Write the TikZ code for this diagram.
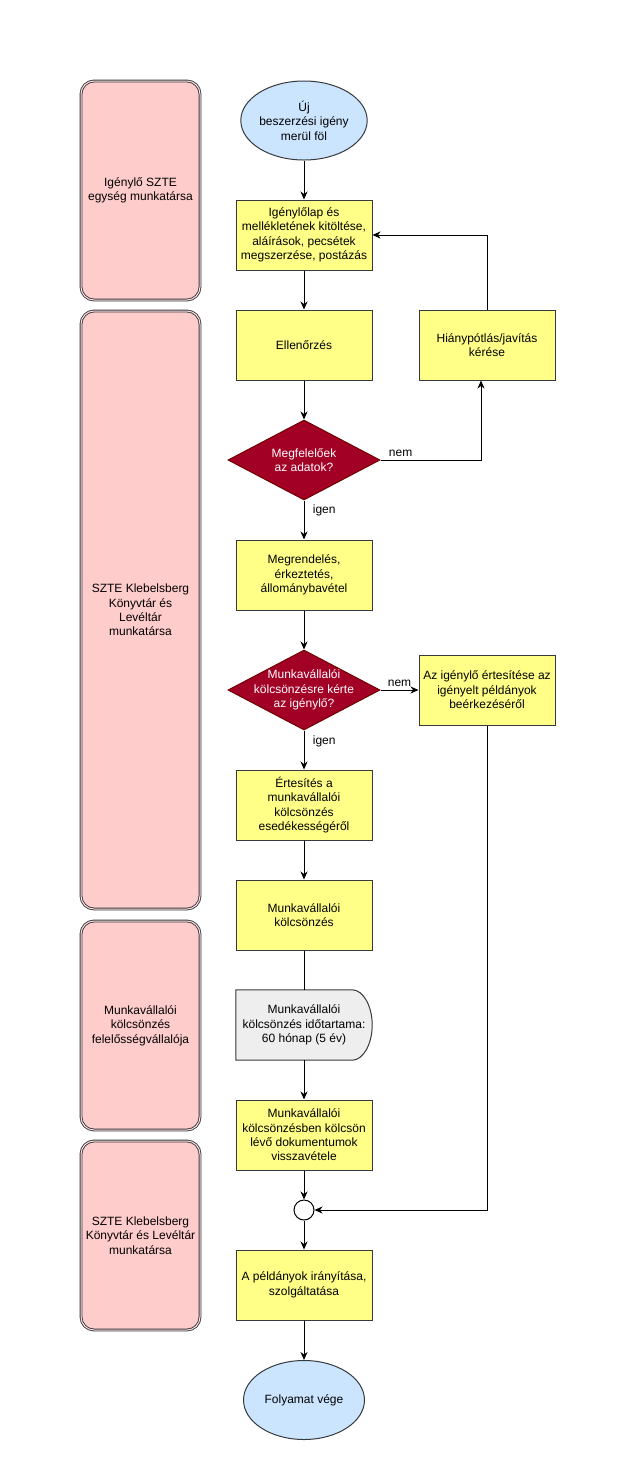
\documentclass[tikz,border=0pt]{standalone}
\usepackage{fontspec}
\setmainfont{Liberation Sans}
\usepackage{xcolor}
\usepackage{tikz}
\usetikzlibrary{shapes.geometric,arrows.meta,backgrounds}

\definecolor{laneRed}{HTML}{FFCCCC}
\definecolor{boxYellow}{HTML}{FFFF88}
\definecolor{termBlue}{HTML}{CCE5FF}
\definecolor{decRed}{HTML}{A20025}
\definecolor{decLine}{HTML}{6F0000}
\definecolor{delayGray}{HTML}{EEEEEE}
\definecolor{edgeGray}{HTML}{36393D}

\begin{document}
\begin{tikzpicture}[
        x=1pt, y=-1pt,
        font=\fontsize{12}{14.4}\selectfont,
        lane/.style={draw=edgeGray, line width=0.9pt, double=laneRed!60!white, double distance=1pt,
            fill=laneRed, rounded corners=13pt, minimum width=119pt, align=center},
        proc/.style={draw=edgeGray, line width=1pt, fill=boxYellow, minimum width=136pt,
            minimum height=70pt, inner sep=2pt, align=center},
        term/.style={ellipse, draw=edgeGray, line width=1pt, fill=termBlue, minimum width=121pt,
            minimum height=79pt, inner sep=0pt, align=center},
        decision/.style={diamond, draw=decLine, line width=1pt, fill=decRed, minimum width=152pt,
            minimum height=80pt, inner sep=0pt},
        flow/.style={line width=1pt, -{Stealth[length=8pt,width=7pt,inset=2.5pt]}}
    ]
    \useasboundingbox (0,0) rectangle (631,1481);

    % swimlanes
    \node[lane, minimum height=219pt] (lane1) at (140.5,190.5) {Igénylő SZTE\\egység munkatársa};
    \node[lane, minimum height=598pt] (lane2) at (140.5,610) {SZTE Klebelsberg\\Könyvtár és\\Levéltár\\munkatársa};
    \node[lane, minimum height=209pt] (lane3) at (140.5,1025.5) {Munkavállalói\\kölcsönzés\\felelősségvállalója};
    \node[lane, minimum height=189pt] (lane4) at (140.5,1235.5) {SZTE Klebelsberg\\Könyvtár és Levéltár\\munkatársa};

    % steps
    \node[term] (start) at (304,120.5) {Új\\beszerzési igény\\merül föl};
    \node[proc] (kitolt) at (304,235) {Igénylőlap és\\mellékletének kitöltése,\\aláírások, pecsétek\\megszerzése, postázás};
    \node[proc] (ellenorz) at (304,345) {Ellenőrzés};
    \node[proc] (hiany) at (487,345) {Hiánypótlás/javítás\\kérése};
    \node[decision, label={[text=white, align=center]center:Megfelelőek\\az adatok?}] (adatok) at (304,460) {};
    \node[proc] (megrend) at (304,575) {Megrendelés,\\érkeztetés,\\állománybavétel};
    \node[decision, label={[text=white, align=center]center:Munkavállalói\\kölcsönzésre kérte\\az igénylő?}] (kerte) at (304,690) {};
    \node[proc] (beerk) at (487,690) {Az igénylő értesítése az\\igényelt példányok\\beérkezéséről};
    \node[proc] (esedek) at (304,805) {Értesítés a\\munkavállalói\\kölcsönzés\\esedékességéről};
    \node[proc] (kolcs) at (304,915) {Munkavállalói\\kölcsönzés};
    \node[minimum width=136pt, minimum height=70pt, inner sep=2pt, align=center] (tartam) at (304,1025) {Munkavállalói\\kölcsönzés időtartama:\\60 hónap (5 év)};
    \node[proc] (vissza) at (304,1135) {Munkavállalói\\kölcsönzésben kölcsön\\lévő dokumentumok\\visszavétele};
    \node[circle, draw=black, line width=1pt, fill=white, minimum size=20pt, inner sep=0pt] (merge) at (304,1210) {};
    \node[proc] (iranyit) at (304,1285) {A példányok irányítása,\\szolgáltatása};
    \node[term] (vege) at (304,1400) {Folyamat vége};

    % delay outline behind its text
    \begin{scope}[on background layer]
        \draw[draw=edgeGray, line width=1pt, fill=delayGray]
            (tartam.north west) -- ([xshift=-20pt]tartam.north east)
            .. controls ([xshift=-9pt]tartam.north east) and ([yshift=19pt]tartam.east) .. (tartam.east)
            .. controls ([yshift=-19pt]tartam.east) and ([xshift=-9pt]tartam.south east) .. ([xshift=-20pt]tartam.south east)
            -- (tartam.south west) -- cycle;
    \end{scope}

    % connectors
    \draw[flow] (start) -- (kitolt);
    \draw[flow] (kitolt) -- (ellenorz);
    \draw[flow] (ellenorz) -- (adatok);
    \draw[flow] (adatok.east) -| node[pos=0.1, above] {nem} ([xshift=-6pt]hiany.south);
    \draw[flow] (hiany.north) |- (kitolt.east);
    \draw[flow] (adatok.south) -- node[pos=0.25, right=5pt] {igen} (megrend);
    \draw[flow] (megrend) -- (kerte);
    \draw[flow] (kerte.east) -- node[above] {nem} (beerk);
    \draw[flow] (kerte.south) -- node[pos=0.28, right=5pt] {igen} (esedek);
    \draw[flow] (esedek) -- (kolcs);
    \draw[line width=1pt] (kolcs) -- (tartam);
    \draw[flow] (tartam) -- (vissza);
    \draw[flow] (vissza) -- (merge);
    \draw[flow] (beerk.south) |- (merge.east);
    \draw[flow] (merge) -- (iranyit);
    \draw[flow] (iranyit) -- (vege);

\end{tikzpicture}
\end{document}
